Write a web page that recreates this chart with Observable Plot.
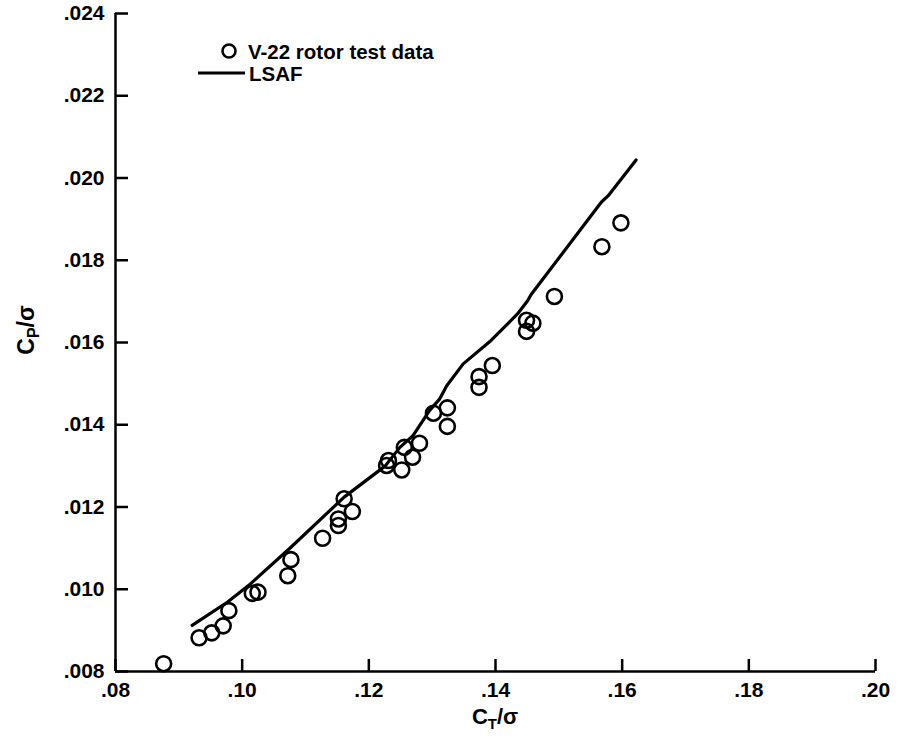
<!DOCTYPE html>
<html>
<head>
<meta charset="utf-8">
<script src="https://cdn.jsdelivr.net/npm/d3@7"></script>
<script src="https://cdn.jsdelivr.net/npm/@observablehq/plot@0.6"></script>
<style>
  html, body { margin: 0; padding: 0; background: #fff; }
  #chart { position: relative; width: 901px; height: 746px; }
  svg { font-family: "Liberation Sans", Arial, Helvetica, sans-serif; font-weight: bold; }
</style>
</head>
<body>
<div id="chart"></div>
<script>
// V-22 rotor test data (C_T/sigma, C_P/sigma)
const testCT = [0.0876, 0.0932, 0.0952, 0.0970, 0.0979, 0.1016, 0.1025, 0.1072, 0.1077,
  0.1127, 0.1152, 0.1152, 0.1161, 0.1174, 0.1228, 0.1231, 0.1252, 0.1256, 0.1269, 0.1280,
  0.1302, 0.1324, 0.1324, 0.1374, 0.1374, 0.1395, 0.1449, 0.1449, 0.1459, 0.1493, 0.1568, 0.1598];
const testCP = [0.00819, 0.00882, 0.00894, 0.00911, 0.00948, 0.00990, 0.00993, 0.01033, 0.01072,
  0.01124, 0.01155, 0.01171, 0.01220, 0.01189, 0.01301, 0.01313, 0.01290, 0.01345, 0.01321, 0.01355,
  0.01428, 0.01441, 0.01396, 0.01491, 0.01517, 0.01544, 0.01654, 0.01627, 0.01647, 0.01712, 0.01833, 0.01891];

// LSAF prediction
const lsafCT = [0.0921, 0.0977, 0.1013, 0.1077, 0.1161, 0.1226, 0.1249, 0.1270, 0.1296,
  0.1312, 0.1323, 0.1349, 0.1393, 0.1435, 0.1451, 0.1456, 0.1567, 0.1578, 0.1622];
const lsafCP = [0.00912, 0.00969, 0.01013, 0.01102, 0.01224, 0.01300, 0.01345, 0.01374, 0.01435,
  0.01463, 0.01495, 0.01548, 0.01605, 0.01670, 0.01702, 0.01716, 0.01941, 0.01957, 0.02044];

const xTicks = [0.08, 0.10, 0.12, 0.14, 0.16, 0.18, 0.20];
const yTicks = [0.008, 0.010, 0.012, 0.014, 0.016, 0.018, 0.020, 0.022, 0.024];

const testData = testCT.map((x, i) => ({x, y: testCP[i]}));
const lsafData = lsafCT.map((x, i) => ({x, y: lsafCP[i]}));

const W = 901, H = 746, mL = 115, mR = 26, mT = 13, mB = 75;
const frameW = W - mL - mR, frameH = H - mT - mB;
const fmt = p => d => d3.format("." + p + "f")(d).replace(/^0/, "");

const plot = Plot.plot({
  width: W, height: H,
  marginLeft: mL, marginRight: mR, marginTop: mT, marginBottom: mB,
  style: {background: "#fff", color: "#000", fontSize: "21px"},
  x: {domain: [0.08, 0.20]},
  y: {domain: [0.008, 0.024]},
  marks: [
    Plot.axisX({ticks: xTicks, tickSize: 0, tickPadding: 11, tickFormat: fmt(2), label: null, fontSize: 21, fontWeight: "bold"}),
    Plot.axisY({ticks: yTicks, tickSize: 0, tickPadding: 11, tickFormat: fmt(3), label: null, fontSize: 21, fontWeight: "bold"}),
    Plot.tickX(xTicks, {x: d => d, insetTop: frameH - 12, stroke: "#000", strokeWidth: 2.5}),
    Plot.tickY(yTicks, {y: d => d, insetRight: frameW - 13, stroke: "#000", strokeWidth: 2.5}),
    Plot.ruleX([0.08], {stroke: "#000", strokeWidth: 2.5}),
    Plot.ruleY([0.008], {stroke: "#000", strokeWidth: 2.5}),
    Plot.line(lsafData, {x: "x", y: "y", stroke: "#000", strokeWidth: 3.2}),
    Plot.dot(testData, {x: "x", y: "y", r: 7.5, stroke: "#000", strokeWidth: 2.6, fill: "none"})
  ]
});
document.getElementById("chart").appendChild(plot);

// Axis titles and legend
const svg = d3.select(plot);
const yt = svg.append("text")
  .attr("transform", "translate(34,330) rotate(-90)")
  .attr("text-anchor", "middle").attr("font-size", 23).attr("font-weight", "bold");
yt.append("tspan").text("C");
yt.append("tspan").attr("font-size", 16).attr("dy", 5).text("P");
yt.append("tspan").attr("dy", -5).text("/σ");

const xt = svg.append("text")
  .attr("x", 495).attr("y", 724)
  .attr("text-anchor", "middle").attr("font-size", 22).attr("font-weight", "bold");
xt.append("tspan").text("C");
xt.append("tspan").attr("font-size", 15).attr("dy", 5).text("T");
xt.append("tspan").attr("dy", -5).text("/σ");

const lg = svg.append("g").attr("font-size", 20.5).attr("font-weight", "bold").attr("text-anchor", "start");
lg.append("circle").attr("cx", 229).attr("cy", 51).attr("r", 6.5).attr("fill", "none").attr("stroke", "#000").attr("stroke-width", 2.6);
lg.append("text").attr("x", 248).attr("y", 58.5).text("V-22 rotor test data");
lg.append("line").attr("x1", 198).attr("x2", 245).attr("y1", 73).attr("y2", 73).attr("stroke", "#000").attr("stroke-width", 3.2);
lg.append("text").attr("x", 249).attr("y", 80.5).text("LSAF");
</script>
</body>
</html>
